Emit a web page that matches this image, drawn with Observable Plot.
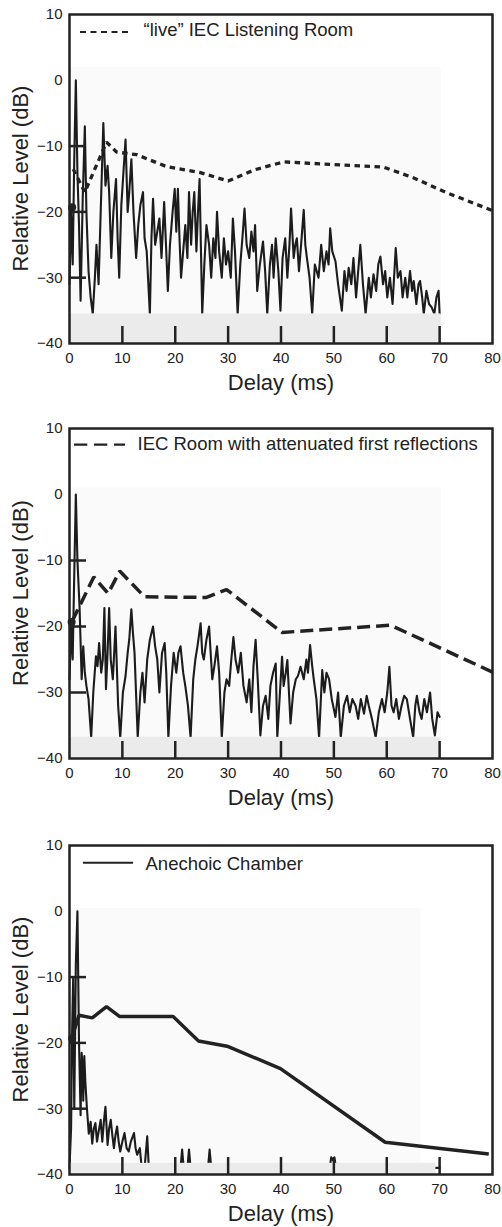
<!DOCTYPE html>
<html><head><meta charset="utf-8">
<script src="https://cdn.jsdelivr.net/npm/d3@7"></script>
<script src="https://cdn.jsdelivr.net/npm/@observablehq/plot@0.6"></script>
<style>
body{margin:0;background:#fff;}
#chart{width:502px;}
#chart svg{display:block;}
</style></head><body><div id="chart"></div>
<script>
// ---- axis / label data ----
const xTickLabels = [0, 10, 20, 30, 40, 50, 60, 70, 80];
const yTickLabels = [-40, -30, -20, -10, 0, 10];
const xInnerTicks = [10, 20, 30, 40, 50, 60, 70];
const yInnerTicks = [-30, -20, -10];
const xTitle = "Delay (ms)";
const yTitle = "Relative Level (dB)";
const legendLabels = ["\u201clive\u201d IEC Listening Room", "IEC Room with attenuated first reflections", "Anechoic Chamber"];

// ---- envelope lines [delay ms, level dB] ----
const envLive = [[0.7,-13.5],[2.9,-17.0],[7.0,-9.4],[8.9,-10.9],[12.7,-11.3],[18.3,-13.1],[24.6,-14.0],[30.0,-15.3],[35.0,-13.6],[40.5,-12.4],[59.4,-13.2],[65.0,-14.8],[71.1,-17.0],[80,-19.8]];
const envAttenuated = [[0.5,-19.2],[4.6,-12.5],[7.3,-15.0],[9.5,-11.6],[14.2,-15.5],[25.9,-15.6],[29.7,-14.4],[40.2,-20.9],[60.7,-19.8],[80,-26.9]];
const envAnechoic = [[0.5,-19.1],[1.8,-15.8],[4.3,-16.2],[7.0,-14.5],[9.5,-16.0],[19.6,-16.0],[24.4,-19.7],[29.8,-20.5],[39.9,-23.9],[59.7,-35.1],[79.3,-36.9]];

// ---- start dots ----
const dotLive = [0.5, -19.3];
const dotAttenuated = [0.4, -19.3];
const dotAnechoic = [0.5, -19.3];

// ---- grey floor band and faint scan background [x end, top level] ----
const bandLive = {end: 70.3, top: -35.5, bgEnd: 70.3, bgTop: 2};
const bandAttenuated = {end: 70.3, top: -36.8, bgEnd: 70.3, bgTop: 1};
const bandAnechoic = {end: 69.3, top: -38.3, bgEnd: 66.5, bgTop: 0.4};

// ---- impulse-response traces [delay ms, level dB] ----
const traceLive = [[0,-31],[0.3,-20],[0.6,-28],[0.9,-12],[1.2,0],[1.5,-14],[1.8,-22],[2.1,-33.5],[2.5,-18],[2.9,-7],[3.2,-20],[3.6,-29],[4.0,-33],[4.4,-35.5],[4.8,-30],[5.1,-25],[5.5,-31],[5.9,-20],[6.4,-6.5],[6.8,-16],[7.2,-13],[7.5,-17],[7.9,-27],[8.3,-20],[8.8,-15],[9.1,-24],[9.4,-30],[9.8,-19],[10.2,-14],[10.6,-9],[11.0,-20],[11.3,-17],[11.7,-12],[12.1,-20],[12.6,-27],[13.0,-22],[13.4,-19],[13.9,-17],[14.2,-24],[14.6,-26],[15.2,-35.5],[15.5,-24],[15.8,-18],[16.2,-25],[16.6,-23],[17.0,-21],[17.4,-27],[17.9,-18.5],[18.3,-26],[18.6,-32],[19.0,-25],[19.5,-20],[19.9,-16.5],[20.2,-23],[20.5,-16.5],[20.8,-24],[21.1,-30],[21.5,-26],[21.9,-22],[22.3,-27],[22.6,-17],[23.0,-25],[23.3,-20],[23.6,-17],[24.0,-26],[24.3,-20],[24.6,-15],[25.1,-35.5],[25.5,-28],[25.9,-22],[26.4,-25],[26.8,-30],[27.2,-24],[27.6,-27],[27.9,-20],[28.3,-26],[28.8,-30],[29.2,-24],[29.6,-28],[30.0,-26],[30.5,-30],[30.9,-21],[31.3,-26],[31.8,-35.5],[32.3,-28],[32.7,-24],[33.1,-19.5],[33.5,-25],[34.0,-27],[34.4,-23],[34.8,-26],[35.1,-22],[35.5,-32],[36.0,-28],[36.6,-24.5],[37.0,-29],[37.4,-35.5],[37.9,-28],[38.3,-25],[38.6,-30],[39.0,-24],[39.5,-29],[39.9,-35],[40.3,-27],[40.8,-24],[41.2,-30],[41.6,-25],[41.9,-19.5],[42.4,-27],[42.7,-25],[43.0,-24],[43.4,-29],[43.8,-25],[44.3,-19.7],[44.6,-25],[44.9,-27],[45.4,-30],[45.9,-35.5],[46.4,-28],[47.1,-30],[47.6,-25],[48.1,-29],[48.6,-26],[49.0,-28],[49.3,-22.5],[49.7,-26],[50.3,-27.5],[50.8,-31],[51.5,-35],[52.0,-29],[52.4,-32],[52.8,-28.5],[53.3,-31],[53.7,-27],[54.2,-33],[54.6,-29],[55.0,-25],[55.5,-31],[56.0,-35.5],[56.6,-30],[57.0,-33],[57.5,-29.5],[58.0,-32],[58.4,-28],[58.8,-26.8],[59.3,-31],[59.7,-29],[60.1,-33],[60.6,-30],[61.1,-34],[61.7,-25.5],[62.1,-30],[62.6,-29],[63.0,-33],[63.5,-30],[63.9,-33],[64.4,-29],[64.8,-32],[65.1,-30.5],[65.6,-34],[66.0,-31],[66.3,-30.5],[66.7,-33],[67.0,-35.5],[67.5,-32],[68.0,-34],[68.5,-34.5],[69.0,-35.5],[69.4,-33],[69.8,-32],[70.0,-35.5]];
const traceAttenuated = [[0,-28],[0.3,-20],[0.6,-25],[0.9,-12],[1.2,0],[1.5,-10],[1.9,-17],[2.3,-28],[2.6,-23],[2.9,-27],[3.2,-29],[3.6,-31],[4.1,-36.8],[4.5,-30],[5.0,-24.5],[5.3,-26],[5.6,-22.5],[6.0,-27],[6.3,-25],[6.6,-17.2],[6.9,-29.5],[7.2,-24],[7.5,-17.2],[7.8,-25],[8.2,-28],[8.7,-20],[9.2,-32],[9.6,-36.8],[10.1,-30],[10.6,-27.5],[11.0,-24],[11.3,-22],[11.7,-17.4],[12.0,-21],[12.3,-24],[12.9,-36.8],[13.4,-30],[13.8,-27],[14.2,-31.5],[14.7,-25],[15.2,-22],[15.8,-20],[16.2,-23],[16.6,-25],[17.0,-30],[17.5,-24],[18.0,-22.5],[18.3,-27],[18.7,-36.8],[19.2,-29],[19.7,-24],[20.2,-27],[20.6,-24],[21.0,-23],[21.5,-27],[21.9,-29],[22.4,-32],[22.9,-36.8],[23.4,-28],[23.8,-25],[24.2,-23],[24.8,-19.5],[25.1,-24],[25.4,-25],[25.9,-22],[26.4,-20],[26.7,-24],[27.0,-28],[27.4,-26],[27.9,-23],[28.3,-27],[28.8,-36.8],[29.3,-30],[29.7,-28],[30.2,-29],[30.6,-25],[31.0,-21.6],[31.4,-25],[31.9,-27],[32.4,-24],[32.9,-29],[33.5,-31.5],[34.0,-28],[34.4,-33],[34.8,-26],[35.2,-22],[35.6,-28],[36.1,-36.5],[36.6,-32],[37.1,-30.5],[37.6,-34],[38.0,-29],[38.5,-27],[39.0,-25.6],[39.3,-36.8],[39.8,-30],[40.2,-24.6],[40.5,-29],[40.9,-27],[41.2,-25.1],[41.8,-34.7],[42.3,-30],[42.8,-28],[43.2,-27.5],[43.7,-26.1],[44.3,-28],[44.8,-25],[45.1,-27],[45.5,-22.8],[45.9,-26],[46.2,-28],[46.7,-31],[47.2,-36.8],[47.8,-26.6],[48.2,-30],[48.6,-27],[49.1,-28],[49.6,-31],[50.3,-33.7],[50.8,-30],[51.3,-36.8],[51.9,-32],[52.5,-30.5],[53.0,-33],[53.5,-31],[54.1,-32],[54.6,-34],[55.1,-31],[55.7,-33.2],[56.2,-30.5],[56.6,-32],[57.2,-34],[57.9,-36.8],[58.5,-33],[59.1,-31],[59.6,-33],[60.1,-30],[60.5,-26.1],[60.9,-32],[61.3,-33],[61.8,-31],[62.3,-34],[62.8,-32],[63.3,-30.5],[63.8,-31],[64.4,-34],[65.0,-36.8],[65.4,-32],[65.7,-30.5],[66.2,-33],[66.6,-34],[67.1,-31],[67.6,-33],[68.2,-30],[68.6,-34],[69.1,-36.5],[69.6,-33],[70.0,-33.7]];
const traceAnechoic = [[0,-39],[0.3,-33],[0.5,-18],[0.7,-10],[0.9,-30],[1.2,-8],[1.5,0],[1.8,-20],[2.1,-31],[2.3,-21.5],[2.5,-24],[2.6,-28.8],[2.8,-22],[3.0,-26],[3.3,-30],[3.65,-33.8],[4.0,-32],[4.3,-35.3],[4.6,-33],[4.9,-32.2],[5.2,-35],[5.4,-34],[5.9,-31.7],[6.2,-35],[6.5,-32],[6.8,-29.7],[7.2,-35.5],[7.5,-33],[7.8,-31.7],[8.1,-34],[8.4,-36],[8.7,-34],[9.0,-32.7],[9.3,-35],[9.6,-36.5],[10.0,-35],[10.4,-33.7],[10.8,-36],[11.2,-36.5],[11.6,-35],[12.2,-33.7],[12.5,-36],[12.8,-37],[13.3,-36],[13.6,-38.5],[14.2,-39],[14.7,-34.2],[15.0,-39],[21.0,-39],[21.3,-36.2],[21.6,-39],[22.3,-39],[22.6,-36.2],[22.9,-39],[26.2,-39],[26.5,-36.2],[26.8,-39],[49.2,-39],[49.5,-37.4],[49.8,-37.8],[50.1,-37.4],[50.4,-39],[70,-39]];

// ---- styling ----
const INK = "#222";
const FONT = "'Liberation Sans', Arial, Helvetica, sans-serif";
const W = 502, ML = 69, MR = 10;

const panels = [
  {trace: traceLive, env: envLive, dot: dotLive, band: bandLive, legend: legendLabels[0],
   envStyle: {strokeWidth: 3.3, strokeDasharray: "5.5 4.5"},
   legendLine: {from: 11, to: 59, dy: 18, width: 2, dash: "6 4.5"}, legendText: {dx: 74, dy: 15.8},
   height: 414, mt: 14, mb: 71},
  {trace: traceAttenuated, env: envAttenuated, dot: dotAttenuated, band: bandAttenuated, legend: legendLabels[1],
   envStyle: {strokeWidth: 3.5, strokeDasharray: "13 6"},
   legendLine: {from: 5, to: 56, dy: 16.7, width: 2.2, dash: "13.3 6.7"}, legendText: {dx: 68, dy: 15.8},
   height: 414, mt: 14, mb: 70},
  {trace: traceAnechoic, env: envAnechoic, dot: dotAnechoic, band: bandAnechoic, legend: legendLabels[2],
   envStyle: {strokeWidth: 3.5},
   legendLine: {from: 14, to: 64, dy: 17.7, width: 2, dash: null}, legendText: {dx: 76, dy: 18.4},
   height: 399, mt: 17, mb: 53}
];

const root = document.getElementById("chart");
for (const p of panels) {
  const plotW = W - ML - MR, plotH = p.height - p.mt - p.mb;
  const svg = Plot.plot({
    width: W, height: p.height, marginLeft: ML, marginRight: MR, marginTop: p.mt, marginBottom: p.mb,
    style: {fontFamily: FONT, color: INK, background: "white", overflow: "visible"},
    x: {domain: [0, 80], axis: null},
    y: {domain: [-40, 10], axis: null},
    marks: [
      Plot.rect([p.band], {x1: () => 0, x2: d => d.bgEnd, y1: d => d.top, y2: d => d.bgTop, fill: "#fafafa"}),
      Plot.line(p.trace, {x: d => d[0], y: d => d[1], stroke: "#1c1c1c", strokeWidth: 2.1, strokeLinejoin: "round"}),
      Plot.rect([p.band], {x1: () => 0, x2: d => d.end, y1: () => -40, y2: d => d.top, fill: "#ebebeb"}),
      Plot.tickY(yInnerTicks, {y: d => d, insetRight: plotW - 17, stroke: INK, strokeWidth: 2.5}),
      Plot.tickX(xInnerTicks, {x: d => d, insetTop: plotH - 17, stroke: INK, strokeWidth: 2.5}),
      Plot.frame({stroke: INK, strokeWidth: 2.5}),
      Plot.line(p.env, {x: d => d[0], y: d => d[1], stroke: INK, strokeLinecap: "butt", strokeLinejoin: "miter", ...p.envStyle}),
      Plot.dot([p.dot], {x: d => d[0], y: d => d[1], r: 4, fill: INK, stroke: "none"}),
      Plot.axisY(yTickLabels, {tickSize: 0, tickPadding: 7, fontSize: 15, label: null, fill: INK}),
      Plot.axisX(xTickLabels, {tickSize: 0, tickPadding: 8.5, fontSize: 15, label: null, fill: INK}),
      Plot.text([xTitle], {text: d => d, frameAnchor: "bottom", dy: 39, lineAnchor: "middle", fontSize: 22, fill: INK}),
      Plot.text([p.legend], {text: d => d, frameAnchor: "top-left", dx: p.legendText.dx, dy: p.legendText.dy, textAnchor: "start", lineAnchor: "middle", fontSize: 18.5, fill: INK})
    ]
  });
  const sel = d3.select(svg);
  // legend sample line
  const ll = p.legendLine;
  const line = sel.append("line")
    .attr("x1", ML + ll.from).attr("x2", ML + ll.to)
    .attr("y1", p.mt + ll.dy).attr("y2", p.mt + ll.dy)
    .attr("stroke", INK).attr("stroke-width", ll.width);
  if (ll.dash) line.attr("stroke-dasharray", ll.dash);
  // rotated y-axis title, centred on the frame
  sel.append("text")
    .attr("transform", `translate(20,${p.mt + plotH / 2}) rotate(-90)`)
    .attr("text-anchor", "middle").attr("dy", "0.35em")
    .attr("font-family", FONT).attr("font-size", 22).attr("fill", INK)
    .text(yTitle);
  root.appendChild(svg);
}
</script></body></html>
